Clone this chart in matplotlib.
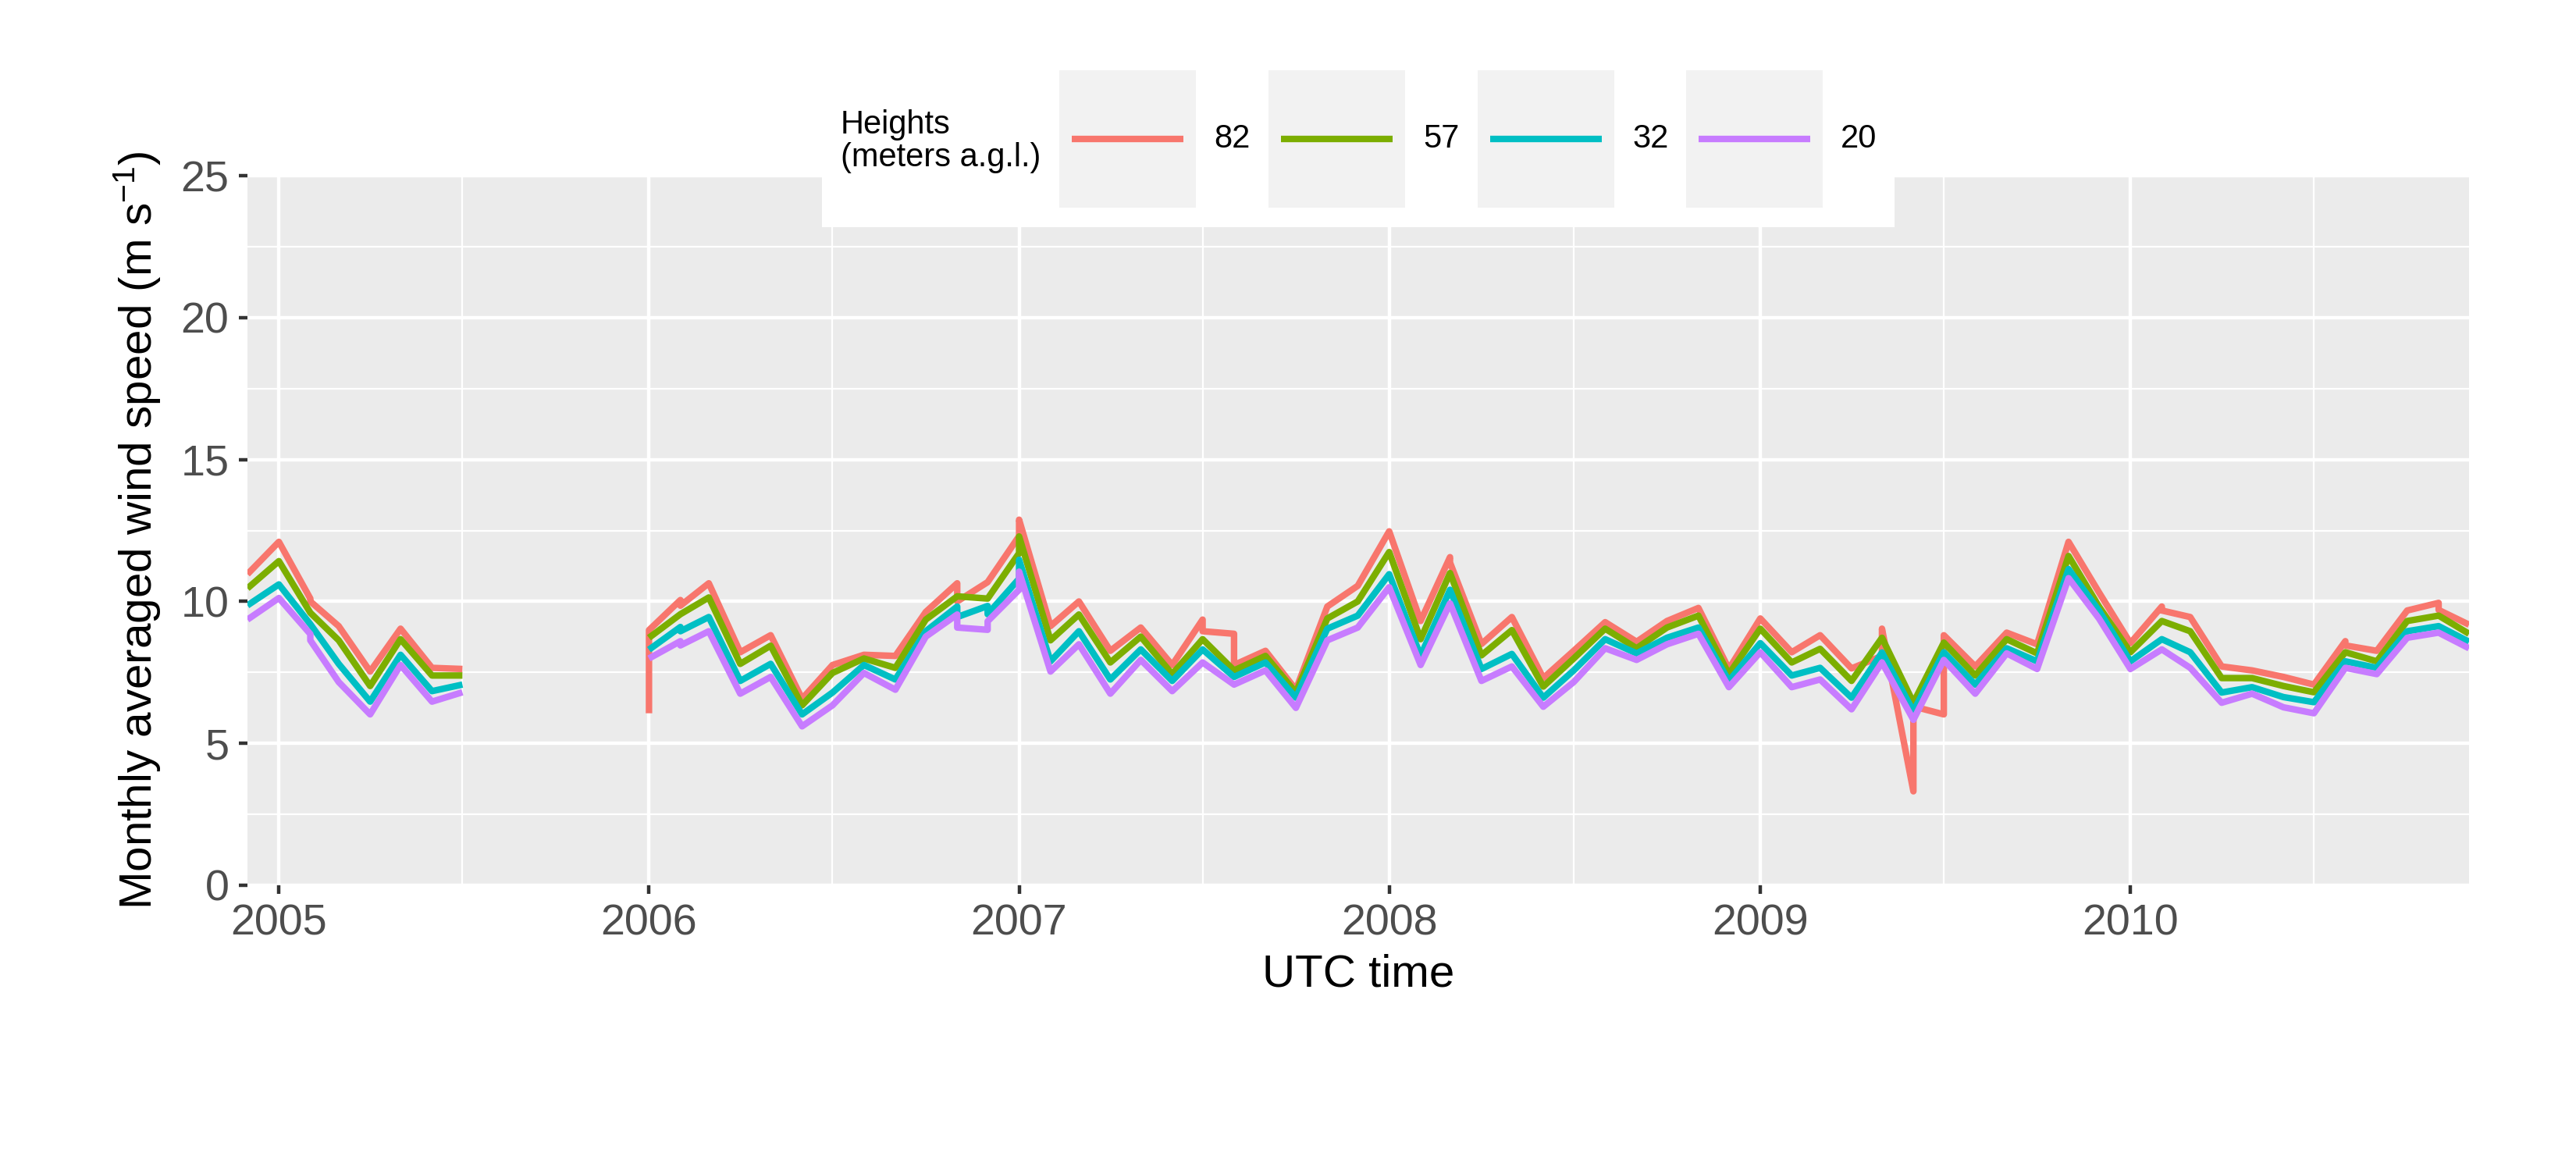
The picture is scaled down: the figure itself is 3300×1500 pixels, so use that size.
import numpy as np
import pandas as pd
import matplotlib
matplotlib.use("Agg")
import matplotlib.pyplot as plt
import matplotlib.dates as mdates
from matplotlib.patches import Rectangle
from matplotlib.lines import Line2D

plt.rcParams['font.family'] = ['Liberation Sans', 'DejaVu Sans']
plt.rcParams['mathtext.fontset'] = 'custom'
plt.rcParams['mathtext.rm'] = 'Liberation Sans'
plt.rcParams['mathtext.default'] = 'regular'

# monthly values, Dec 2004 .. Dec 2010 (NaN = no data)
months = pd.date_range('2004-12-01', '2010-12-01', freq='MS')
nan = np.nan

heights = ['82', '57', '32', '20']
colors = ['#F8766D', '#7CAE00', '#00BFC4', '#C77CFF']

speed_82 = [10.96,
            12.1, 10.0, 9.13, 7.53, 9.04, 7.66, 7.62, nan, nan, nan, nan, nan,
            8.99, 9.85, 10.64, 8.21, 8.81, 6.57, 7.76, 8.12, 8.08, 9.63, 10.0, 10.68,
            12.88, 9.13, 10.0, 8.26, 9.08, 7.76, 8.95, 7.76, 8.26, 6.89, 9.82, 10.55,
            12.47, 9.31, 11.37, 8.5, 9.45, 7.3, 8.26, 9.27, 8.58, 9.31, 9.77, 7.62,
            9.4, 8.21, 8.81, 7.64, 9.04, 6.3, 8.81, 7.71, 8.9, 8.49, 12.1, 10.32,
            8.53, 9.68, 9.45, 7.71, 7.57, 7.34, 7.07, 8.45, 8.26, 9.68, 9.7, 9.18]
speed_57 = [10.46,
            11.42, 9.6, 8.63, 7.02, 8.67, 7.39, 7.39, nan, nan, nan, nan, nan,
            8.72, 9.55, 10.14, 7.8, 8.44, 6.34, 7.48, 7.99, 7.66, 9.36, 10.18, 10.1,
            12.29, 8.63, 9.54, 7.85, 8.76, 7.44, 8.67, 7.57, 8.08, 6.79, 9.4, 10.0,
            11.74, 8.67, 11.0, 8.1, 8.99, 7.0, 7.99, 9.04, 8.35, 9.08, 9.5, 7.44,
            9.04, 7.85, 8.33, 7.2, 8.72, 6.43, 8.55, 7.39, 8.67, 8.17, 11.6, 9.82,
            8.21, 9.31, 8.95, 7.3, 7.3, 7.02, 6.8, 8.21, 7.89, 9.31, 9.5, 8.86]
speed_32 = [9.86,
            10.6, 9.2, 7.8, 6.47, 8.12, 6.84, 7.07, nan, nan, nan, nan, nan,
            8.3, 8.95, 9.45, 7.2, 7.8, 6.02, 6.79, 7.76, 7.25, 8.95, 9.45, 9.55,
            11.47, 7.89, 8.95, 7.25, 8.31, 7.2, 8.31, 7.34, 7.85, 6.61, 9.04, 9.5,
            10.96, 8.08, 10.41, 7.62, 8.15, 6.61, 7.57, 8.67, 8.17, 8.72, 9.08, 7.2,
            8.53, 7.39, 7.66, 6.61, 8.2, 6.13, 8.21, 7.07, 8.35, 7.89, 11.14, 9.68,
            7.89, 8.67, 8.21, 6.79, 6.98, 6.63, 6.45, 7.89, 7.66, 8.95, 9.13, 8.58]
speed_20 = [9.36,
            10.12, 8.63, 7.16, 6.02, 7.76, 6.47, 6.8, nan, nan, nan, nan, nan,
            7.99, 8.45, 8.95, 6.75, 7.34, 5.6, 6.34, 7.48, 6.89, 8.76, 9.08, 9.3,
            11.05, 7.53, 8.49, 6.75, 7.94, 6.84, 7.85, 7.07, 7.57, 6.25, 8.63, 9.08,
            10.5, 7.76, 9.93, 7.2, 7.71, 6.29, 7.16, 8.35, 7.94, 8.49, 8.86, 6.98,
            8.21, 6.98, 7.25, 6.2, 7.85, 5.83, 7.94, 6.75, 8.17, 7.62, 10.82, 9.4,
            7.62, 8.31, 7.66, 6.43, 6.75, 6.27, 6.06, 7.66, 7.44, 8.72, 8.9, 8.35]

# value the line reaches first in a month before jumping to the month's value
arrive_82 = {'2005-02': 10.1, '2006-01': 6.06, '2006-02': 10.05, '2006-11': 10.64,
             '2007-01': 12.3, '2007-07': 9.36, '2007-08': 8.86, '2008-03': 11.56,
             '2009-05': 8.08, '2009-06': 3.31, '2009-07': 6.02, '2010-02': 9.82,
             '2010-08': 8.6, '2010-11': 9.95}
arrive_57 = {'2007-01': 11.7}
arrive_32 = {'2006-02': 9.1, '2006-11': 9.82, '2006-12': 9.84, '2007-01': 10.8}
arrive_20 = {'2005-02': 8.85, '2006-02': 8.6, '2006-11': 9.54, '2006-12': 9.0,
             '2007-01': 10.41}

series = [speed_82, speed_57, speed_32, speed_20]
arrivals = [arrive_82, arrive_57, arrive_32, arrive_20]


def build(vals, arrive):
    xs, ys = [], []
    for m, v in zip(months, vals):
        key = m.strftime('%Y-%m')
        if key in arrive:
            xs.append(m.to_pydatetime())
            ys.append(arrive[key])
        xs.append(m.to_pydatetime())
        ys.append(v)
    return xs, ys


W, H = 3300, 1500
fig = plt.figure(figsize=(11, 5), dpi=300)
ax = fig.add_axes([317 / W, 1 - 1134 / H, (3163 - 317) / W, (1134 - 225) / H])
ax.set_facecolor('#EBEBEB')
for s in ax.spines.values():
    s.set_visible(False)

for vals, arr, c in zip(series, arrivals, colors):
    xs, ys = build(vals, arr)
    ax.plot(xs, ys, color=c, lw=2, solid_joinstyle='round', solid_capstyle='butt')

ax.set_xlim(months[0], months[-1])
ax.set_ylim(0, 25)
ax.xaxis.set_major_locator(mdates.YearLocator())
ax.xaxis.set_major_formatter(mdates.DateFormatter('%Y'))
ax.xaxis.set_minor_locator(mdates.MonthLocator(bymonth=7))
ax.set_yticks([0, 5, 10, 15, 20, 25])
ax.set_yticks([2.5, 7.5, 12.5, 17.5, 22.5], minor=True)
ax.grid(which='major', color='white', lw=1.07)
ax.grid(which='minor', color='white', lw=0.53)
ax.set_axisbelow(True)
ax.tick_params(which='major', length=2.75, width=1.07, color='#333333',
               labelsize=13.4, labelcolor='#4D4D4D', pad=2.9)
ax.tick_params(which='minor', length=0)

fig.text(1740 / W, 1 - 1263 / H, 'UTC time', fontsize=14, ha='center', va='baseline')
fig.text(194 / W, 1 - 679.5 / H, 'Monthly averaged wind speed (m s$^{-1}$)', fontsize=14,
         rotation=90, rotation_mode='anchor', ha='center', va='baseline')

# legend drawn on top of the panel
fig.add_artist(Rectangle((1052.7 / W, 1 - 290.7 / H), (2427 - 1052.7) / W, 230 / H,
                         transform=fig.transFigure, facecolor='white', edgecolor='none', zorder=5))
fig.text(1077 / W, 1 - 181 / H, 'Heights\n(meters a.g.l.)', fontsize=10, ha='left',
         va='center', linespacing=1.05, zorder=8)
key_x = [1357, 1625, 1893, 2160]
for kx, lab, c in zip(key_x, heights, colors):
    fig.add_artist(Rectangle((kx / W, 1 - 266 / H), 175 / W, 176 / H, transform=fig.transFigure,
                             facecolor='#F2F2F2', edgecolor='none', zorder=6))
    fig.add_artist(Line2D([(kx + 16) / W, (kx + 159) / W], [1 - 178 / H, 1 - 178 / H],
                          transform=fig.transFigure, color=c, lw=2, solid_capstyle='butt', zorder=7))
    fig.text((kx + 198) / W, 1 - 178 / H, lab, fontsize=10, ha='left', va='center', zorder=8)

fig.savefig('out.png', dpi=300, facecolor='white')
